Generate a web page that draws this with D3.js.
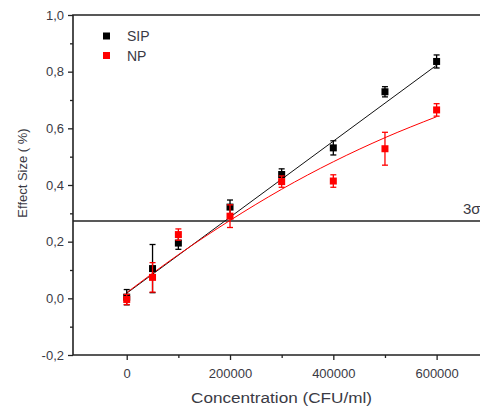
<!DOCTYPE html>
<html>
<head>
<meta charset="utf-8">
<script src="https://cdn.jsdelivr.net/npm/d3@7"></script>
<style>
body { margin: 0; background: #fff; }
svg { display: block; font-family: "Liberation Sans", Arial, sans-serif; }
.tick text { fill: #3a3a44; font-size: 13px; }
</style>
</head>
<body>
<svg id="chart" width="480" height="408"></svg>
<script>
// concentrations (CFU/ml)
var conc   = [0, 50000, 100000, 200000, 300000, 400000, 500000, 600000];
// SIP series (black)
var sipVal = [0.004, 0.105, 0.195, 0.322, 0.437, 0.531, 0.729, 0.836];
var sipErr = [0.027, 0.085, 0.022, 0.025, 0.02, 0.025, 0.018, 0.023];
// NP series (red)
var npVal  = [-0.004, 0.074, 0.225, 0.29, 0.412, 0.414, 0.528, 0.665];
var npErr  = [0.018, 0.052, 0.02, 0.04, 0.02, 0.022, 0.058, 0.022];
// fitted curves
var sipFitX = [0, 600000];
var sipFitY = [0.018, 0.823];
var npFitX  = [0, 100000, 200000, 300000, 400000, 500000, 600000];
var npFitY  = [0.02, 0.154, 0.275, 0.385, 0.482, 0.567, 0.641];
// 3 sigma limit
var limit = 0.273;
var yTicks = [-0.2, 0, 0.2, 0.4, 0.6, 0.8, 1.0];
var yMinor = [-0.1, 0.1, 0.3, 0.5, 0.7, 0.9];
var xTicks = [0, 200000, 400000, 600000];
var xMinor = [100000, 300000, 500000];

var svg = d3.select("#chart");

var x = d3.scaleLinear().domain([-104000, 700000]).range([73, 73 + 804000 / 200000 * 103.3]);
var y = d3.scaleLinear().domain([-0.2, 1.0]).range([355, 15]);

var plotLeft = x.range()[0], plotBottom = y.range()[0], plotTop = y.range()[1];
var fmtY = function(d){ return d3.format(".1f")(d).replace(".", ",").replace("\u2212", "-"); };

// y axis
svg.append("g").attr("transform", "translate(" + plotLeft + ",0)")
    .call(d3.axisLeft(y).tickValues(yTicks).tickFormat(fmtY).tickSize(5).tickPadding(4));
svg.append("g").attr("transform", "translate(" + plotLeft + ",0)")
    .call(d3.axisLeft(y).tickValues(yMinor).tickFormat("").tickSize(3));

// x axis
svg.append("g").attr("transform", "translate(0," + plotBottom + ")")
    .call(d3.axisBottom(x).tickValues(xTicks).tickFormat(d3.format("d")).tickSize(5).tickPadding(9));
svg.append("g").attr("transform", "translate(0," + plotBottom + ")")
    .call(d3.axisBottom(x).tickValues(xMinor).tickFormat("").tickSize(3));

svg.selectAll(".domain").remove();
svg.selectAll(".tick line").attr("stroke", "#222").attr("stroke-width", 1.3);

// frame
svg.append("path")
    .attr("d", "M480," + plotTop + "H" + plotLeft + "V" + plotBottom + "H480")
    .attr("fill", "none").attr("stroke", "#222").attr("stroke-width", 1.6);

// 3 sigma line
svg.append("line")
    .attr("x1", plotLeft).attr("x2", 480)
    .attr("y1", y(limit)).attr("y2", y(limit))
    .attr("stroke", "#222").attr("stroke-width", 1.5);
svg.append("text")
    .attr("x", 463).attr("y", y(limit) - 6.5)
    .attr("font-size", 15).attr("fill", "#3a3a44")
    .text("3\u03c3");

// fit lines
var line = d3.line().x(function(d){ return x(d[0]); }).y(function(d){ return y(d[1]); });
svg.append("path")
    .datum(d3.zip(sipFitX, sipFitY))
    .attr("d", line)
    .attr("fill", "none").attr("stroke", "#111").attr("stroke-width", 1);
svg.append("path")
    .datum(d3.zip(npFitX, npFitY))
    .attr("d", line.curve(d3.curveMonotoneX))
    .attr("fill", "none").attr("stroke", "#ff0000").attr("stroke-width", 1);

// points with error bars
function drawSeries(vals, errs, color) {
    var g = svg.append("g");
    var data = conc.map(function(c, i){ return {x: c, v: vals[i], e: errs[i]}; });
    var pts = g.selectAll("g").data(data).enter().append("g");
    pts.append("line")
        .attr("x1", function(d){ return x(d.x); }).attr("x2", function(d){ return x(d.x); })
        .attr("y1", function(d){ return y(d.v - d.e); }).attr("y2", function(d){ return y(d.v + d.e); })
        .attr("stroke", color).attr("stroke-width", 1.3);
    [-1, 1].forEach(function(s){
        pts.append("line")
            .attr("x1", function(d){ return x(d.x) - 3; }).attr("x2", function(d){ return x(d.x) + 3; })
            .attr("y1", function(d){ return y(d.v + s * d.e); }).attr("y2", function(d){ return y(d.v + s * d.e); })
            .attr("stroke", color).attr("stroke-width", 1.3);
    });
    pts.append("rect")
        .attr("x", function(d){ return x(d.x) - 3.5; })
        .attr("y", function(d){ return y(d.v) - 3.5; })
        .attr("width", 7).attr("height", 7)
        .attr("fill", color);
}
drawSeries(sipVal, sipErr, "#000");
drawSeries(npVal, npErr, "#ff0000");

// legend
var legend = [["SIP", "#000"], ["NP", "#ff0000"]];
legend.forEach(function(l, i){
    svg.append("rect").attr("x", 103).attr("y", 32.5 + i * 19.5).attr("width", 7).attr("height", 7).attr("fill", l[1]);
    svg.append("text").attr("x", 127).attr("y", 40.5 + i * 20.5)
        .attr("font-size", 14).attr("fill", "#3a3a44").text(l[0]);
});

// axis titles
svg.append("text")
    .attr("x", 191).attr("y", 403)
    .attr("font-size", 14).attr("fill", "#3a3a44")
    .attr("textLength", 181).attr("lengthAdjust", "spacingAndGlyphs")
    .text("Concentration (CFU/ml)");
svg.append("text")
    .attr("text-anchor", "middle")
    .attr("transform", "translate(27,173) rotate(-90)")
    .attr("font-size", 13).attr("fill", "#3a3a44")
    .text("Effect Size ( %)");
</script>
</body>
</html>
